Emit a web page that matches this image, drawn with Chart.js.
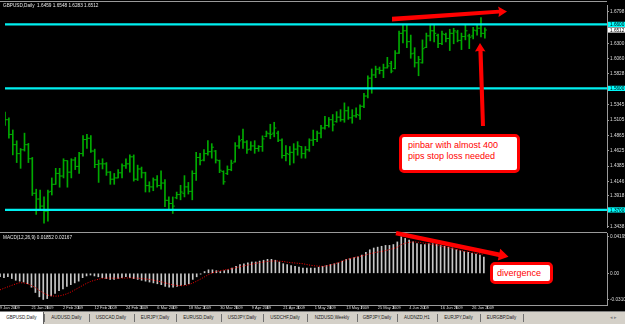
<!DOCTYPE html>
<html>
<head>
<meta charset="utf-8">
<script src="https://cdn.jsdelivr.net/npm/chart.js@4.4.1/dist/chart.umd.min.js"></script>
<style>
  html, body { margin: 0; padding: 0; background: #000; }
  body { width: 625px; height: 324px; position: relative; overflow: hidden; font-family: 'Liberation Sans', Arial, sans-serif; }
  canvas { position: absolute; left: 0; }
  #priceChart { top: 0; }
  #macdChart { top: 233px; }
  .rule { position: absolute; background: #9a9a9a; }
  .caption { position: absolute; left: 3px; color: #e8e8e8; font-size: 4.7px; line-height: 5px; white-space: pre; }
  .note { position: absolute; box-sizing: border-box; background: #fff; border: 3px solid #f00; border-radius: 5px;
          color: #f00; font: 9px/11px 'Liberation Sans', Arial, sans-serif; white-space: nowrap; }
  #tabs { position: absolute; left: 0; top: 311px; width: 625px; height: 13px; background: #d4d0c8; border-top: 1px solid #808080; box-sizing: border-box; }
  .tab { position: absolute; top: 0; height: 12px; font-size: 4.5px; line-height: 12px; color: #202020; white-space: nowrap; }
  .tab.active { background: #fff; border-right: 1px solid #606060; }
  .sep { position: absolute; top: 2px; width: 1px; height: 8px; background: #707070; }
  svg { position: absolute; left: 0; top: 0; }
</style>
</head>
<body>
<canvas id="priceChart" width="625" height="232"></canvas>
<canvas id="macdChart" width="625" height="78"></canvas>

<div class="rule" style="left:0;top:1px;width:607px;height:1px"></div>
<div class="rule" style="left:0;top:232px;width:607px;height:1px"></div>

<div class="caption" style="top:3px">GBPUSD,Daily  1.6459 1.6548 1.6283 1.6512</div>
<div class="caption" style="top:235px">MACD(12,26,9) 0.01852 0.02167</div>

<div class="note" style="left:399px;top:134px;width:121px;height:39px;padding:3px 0 0 6px">pinbar with almost 400<br>pips stop loss needed</div>
<div class="note" style="left:490px;top:262px;width:63px;height:22px;padding:3px 0 0 4px">divergence</div>

<svg width="625" height="324">
  <polygon fill="#f00" points="392,16.8 499,9.8 498,6.5 507,11.5 498.5,17 499,13.4 392,21.6"/>
  <polygon fill="#f00" points="480,43 485.5,51.5 482.6,51 485,126 481,126 478.4,51 475,51.5"/>
  <polygon fill="#f00" points="396.5,230.9 499.5,252.5 500.2,248.8 508.5,256.7 497.8,260.6 498.5,256.9 395.5,235.2"/>
</svg>

<div id="tabs"></div>

<script>
// ---- data (GBPUSD daily, 9 Jan 2009 .. 1 Jul 2009) ----
const dateTicks = ['9 Jan 2009', '21 Jan 2009', '2 Feb 2009', '12 Feb 2009', '24 Feb 2009', '6 Mar 2009',
    '18 Mar 2009', '30 Mar 2009', '9 Apr 2009', '21 Apr 2009', '1 May 2009', '13 May 2009',
    '25 May 2009', '4 Jun 2009', '16 Jun 2009', '26 Jun 2009'];
const dateTickBars = [0, 8, 16, 24, 32, 40, 48, 56, 64, 72, 80, 88, 96, 104, 112, 120];

const openP = [
    1.5175, 1.5110, 1.4880, 1.4720, 1.4580, 1.4640, 1.4720, 1.4500, 1.3960, 1.3870,
    1.3760, 1.3680, 1.3990, 1.4100, 1.4270, 1.4230, 1.4470, 1.4290, 1.4480, 1.4380,
    1.4580, 1.4800, 1.4820, 1.4620, 1.4410, 1.4420, 1.4420, 1.4290, 1.4180, 1.4200,
    1.4280, 1.4390, 1.4420, 1.4530, 1.4180, 1.4340, 1.4280, 1.4080, 1.4060, 1.4170,
    1.4080, 1.4120, 1.3850, 1.3800, 1.3890, 1.3940, 1.3960, 1.4060, 1.3990, 1.4270,
    1.4520, 1.4480, 1.4580, 1.4610, 1.4620, 1.4470, 1.4300, 1.4270, 1.4330, 1.4450,
    1.4700, 1.4800, 1.4760, 1.4650, 1.4700, 1.4660, 1.4690, 1.4850, 1.4890, 1.4900,
    1.4900, 1.4790, 1.4550, 1.4570, 1.4600, 1.4650, 1.4690, 1.4580, 1.4640, 1.4790,
    1.4800, 1.4900, 1.4980, 1.5020, 1.5110, 1.5080, 1.5150, 1.5110, 1.5250, 1.5140,
    1.5170, 1.5180, 1.5320, 1.5480, 1.5760, 1.5810, 1.5900, 1.5880, 1.5920, 1.5990,
    1.5910, 1.6150, 1.6460, 1.6500, 1.6330, 1.6150, 1.6000, 1.6000, 1.6240, 1.6420,
    1.6500, 1.6430, 1.6300, 1.6440, 1.6380, 1.6460, 1.6480, 1.6350, 1.6410, 1.6420,
    1.6420, 1.6500, 1.6540, 1.6459];
const highP = [
    1.5230, 1.5140, 1.4950, 1.4780, 1.4660, 1.4900, 1.4740, 1.4520, 1.4024, 1.4009,
    1.3903, 1.4009, 1.4200, 1.4350, 1.4350, 1.4500, 1.4470, 1.4500, 1.4520, 1.4600,
    1.4860, 1.4880, 1.4860, 1.4650, 1.4480, 1.4500, 1.4440, 1.4300, 1.4270, 1.4330,
    1.4420, 1.4500, 1.4560, 1.4560, 1.4400, 1.4370, 1.4290, 1.4140, 1.4200, 1.4236,
    1.4312, 1.4176, 1.3903, 1.3903, 1.3979, 1.4085, 1.4236, 1.4130, 1.4312, 1.4600,
    1.4585, 1.4645, 1.4782, 1.4736, 1.4630, 1.4479, 1.4312, 1.4388, 1.4479, 1.4752,
    1.4858, 1.4964, 1.4782, 1.4767, 1.4782, 1.4706, 1.4858, 1.4933, 1.5039, 1.5070,
    1.4933, 1.4812, 1.4706, 1.4691, 1.4736, 1.4767, 1.4691, 1.4691, 1.4812, 1.4948,
    1.4933, 1.5024, 1.5161, 1.5145, 1.5191, 1.5236, 1.5267, 1.5373, 1.5312, 1.5267,
    1.5297, 1.5342, 1.5524, 1.5797, 1.5903, 1.5948, 1.5933, 1.5979, 1.6085, 1.6024,
    1.6191, 1.6494, 1.6585, 1.6585, 1.6433, 1.6236, 1.6100, 1.6358, 1.6464, 1.6600,
    1.6585, 1.6448, 1.6494, 1.6464, 1.6524, 1.6539, 1.6509, 1.6464, 1.6585, 1.6448,
    1.6554, 1.6585, 1.6706, 1.6548];
const lowP = [
    1.5020, 1.4820, 1.4560, 1.4440, 1.4350, 1.4620, 1.4440, 1.3925, 1.3630, 1.3706,
    1.3494, 1.3524, 1.3933, 1.4100, 1.4055, 1.4200, 1.4055, 1.4200, 1.4330, 1.4270,
    1.4540, 1.4660, 1.4600, 1.4360, 1.4130, 1.4340, 1.4240, 1.4100, 1.4100, 1.4200,
    1.4200, 1.4350, 1.4290, 1.4150, 1.4160, 1.4200, 1.3980, 1.3980, 1.4000, 1.4055,
    1.4024, 1.3752, 1.3721, 1.3645, 1.3873, 1.3858, 1.3903, 1.3948, 1.3858, 1.4161,
    1.4403, 1.4464, 1.4555, 1.4509, 1.4433, 1.4282, 1.4100, 1.4252, 1.4312, 1.4448,
    1.4661, 1.4661, 1.4585, 1.4630, 1.4585, 1.4615, 1.4615, 1.4842, 1.4812, 1.4842,
    1.4767, 1.4509, 1.4464, 1.4403, 1.4433, 1.4555, 1.4509, 1.4509, 1.4615, 1.4706,
    1.4767, 1.4827, 1.4964, 1.4994, 1.4933, 1.5070, 1.5085, 1.5070, 1.5115, 1.5055,
    1.5145, 1.5115, 1.5297, 1.5449, 1.5524, 1.5767, 1.5827, 1.5767, 1.5918, 1.5842,
    1.5903, 1.6145, 1.6312, 1.6236, 1.6070, 1.5933, 1.5797, 1.5994, 1.6236, 1.6342,
    1.6327, 1.6236, 1.6282, 1.6327, 1.6191, 1.6297, 1.6327, 1.6206, 1.6358, 1.6221,
    1.6373, 1.6433, 1.6403, 1.6383];
const closeP = [
    1.5110, 1.4880, 1.4720, 1.4580, 1.4640, 1.4720, 1.4500, 1.3960, 1.3870, 1.3760,
    1.3680, 1.3980, 1.4100, 1.4270, 1.4230, 1.4470, 1.4290, 1.4480, 1.4380, 1.4580,
    1.4800, 1.4820, 1.4620, 1.4410, 1.4420, 1.4420, 1.4290, 1.4180, 1.4200, 1.4280,
    1.4390, 1.4420, 1.4530, 1.4180, 1.4340, 1.4280, 1.4080, 1.4060, 1.4170, 1.4080,
    1.4120, 1.3850, 1.3800, 1.3760, 1.3940, 1.3980, 1.4060, 1.3990, 1.4270, 1.4520,
    1.4470, 1.4580, 1.4610, 1.4680, 1.4480, 1.4320, 1.4140, 1.4330, 1.4430, 1.4700,
    1.4780, 1.4760, 1.4640, 1.4700, 1.4660, 1.4690, 1.4810, 1.4900, 1.4880, 1.4980,
    1.4790, 1.4550, 1.4580, 1.4600, 1.4650, 1.4700, 1.4580, 1.4640, 1.4790, 1.4800,
    1.4900, 1.4980, 1.5020, 1.5110, 1.5030, 1.5150, 1.5110, 1.5250, 1.5140, 1.5170,
    1.5190, 1.5320, 1.5480, 1.5760, 1.5810, 1.5900, 1.5880, 1.5920, 1.5950, 1.5870,
    1.6150, 1.6460, 1.6500, 1.6330, 1.6140, 1.6000, 1.6050, 1.6220, 1.6420, 1.6500,
    1.6460, 1.6300, 1.6450, 1.6380, 1.6460, 1.6500, 1.6350, 1.6410, 1.6500, 1.6400,
    1.6510, 1.6540, 1.6460, 1.6512];

const macdMain = [
    -0.004, -0.005, -0.004, -0.006, -0.008, -0.009, -0.010, -0.012, -0.016, -0.022,
    -0.027, -0.030, -0.029, -0.026, -0.023, -0.020, -0.018, -0.015, -0.013, -0.011,
    -0.009, -0.005, -0.003, -0.002, -0.003, -0.004, -0.005, -0.006, -0.007, -0.007,
    -0.006, -0.005, -0.004, -0.005, -0.006, -0.007, -0.008, -0.009, -0.010, -0.011,
    -0.012, -0.013, -0.015, -0.016, -0.016, -0.015, -0.014, -0.013, -0.012, -0.007,
    -0.004, -0.001, 0.002, 0.004, 0.004, 0.003, 0.002, 0.003, 0.004, 0.006,
    0.008, 0.010, 0.011, 0.012, 0.013, 0.013, 0.014, 0.015, 0.016, 0.016,
    0.015, 0.013, 0.011, 0.010, 0.009, 0.008, 0.007, 0.006, 0.006, 0.006,
    0.006, 0.007, 0.008, 0.009, 0.010, 0.011, 0.012, 0.014, 0.016, 0.017,
    0.018, 0.019, 0.021, 0.024, 0.027, 0.029, 0.030, 0.031, 0.032, 0.032,
    0.033, 0.036, 0.0419, 0.040, 0.038, 0.036, 0.034, 0.033, 0.033, 0.034,
    0.034, 0.033, 0.032, 0.031, 0.030, 0.029, 0.027, 0.026, 0.025, 0.024,
    0.023, 0.022, 0.021, 0.01852];
const macdSignal = [
    -0.0190, -0.0172, -0.0155, -0.0138, -0.0122, -0.0108, -0.0110, -0.0120, -0.0140, -0.0165,
    -0.0195, -0.0225, -0.0248, -0.0258, -0.0262, -0.0260, -0.0250, -0.0235, -0.0215, -0.0190,
    -0.0165, -0.0140, -0.0115, -0.0095, -0.0080, -0.0068, -0.0058, -0.0055, -0.0055, -0.0056,
    -0.0056, -0.0055, -0.0054, -0.0053, -0.0054, -0.0056, -0.0060, -0.0065, -0.0070, -0.0078,
    -0.0088, -0.0098, -0.0110, -0.0122, -0.0132, -0.0140, -0.0143, -0.0140, -0.0130, -0.0112,
    -0.0090, -0.0066, -0.0040, -0.0015, 0.0005, 0.0020, 0.0030, 0.0038, 0.0045, 0.0055,
    0.0065, 0.0075, 0.0085, 0.0095, 0.0105, 0.0115, 0.0122, 0.0130, 0.0136, 0.0140,
    0.0142, 0.0140, 0.0135, 0.0128, 0.0122, 0.0118, 0.0114, 0.0110, 0.0100, 0.0092,
    0.0086, 0.0082, 0.0080, 0.0085, 0.0095, 0.0108, 0.0122, 0.0138, 0.0155, 0.0170,
    0.0180, 0.0190, 0.0200, 0.0212, 0.0225, 0.0235, 0.0243, 0.0250, 0.0260, 0.0272,
    0.0285, 0.0300, 0.0330, 0.0345, 0.0355, 0.0360, 0.0358, 0.0352, 0.0345, 0.0338,
    0.0330, 0.0322, 0.0313, 0.0303, 0.0293, 0.0283, 0.0273, 0.0263, 0.0253, 0.0244,
    0.0236, 0.0228, 0.0222, 0.02167];

const levels = [1.6600, 1.5600, 1.3700];
const lastPrice = 1.6512;
const priceTicks = [1.6798, 1.6300, 1.6060, 1.5828, 1.5345, 1.5105, 1.4865, 1.4625, 1.4385, 1.4146, 1.3918, 1.3438];
const macdTicks = [0.04195, 0, -0.0306];
const macdTickLabels = ['0.04195', '0.00', '-0.03100'];
const tabs = ['GBPUSD,Daily', 'AUDUSD,Daily', 'USDCAD,Daily', 'EURJPY,Daily', 'EURUSD,Daily', 'USDJPY,Daily',
    'USDCHF,Daily', 'NZDUSD,Weekly', 'GBPJPY,Daily', 'AUDNZD,H1', 'EURJPY,Daily', 'EURGBP,Daily'];

// ---- layout ----
const X_MIN = 0, X_MAX = 154.3;
const BAR_GREEN = '#00aa00';
const AXIS_GREY = '#9a9a9a';
const TXT = '#dcdcdc';
const SMALL = { family: "'Liberation Sans', Arial, sans-serif", size: 4.7 };

Chart.defaults.animation = false;
Chart.defaults.events = [];

const idx = closeP.map((c, i) => i);

function rightAxis(min, max, ticks, label) {
    return {
        position: 'right', min: min, max: max,
        afterBuildTicks: s => { s.ticks = ticks.map(v => ({ value: v })); },
        afterFit: s => { s.width = 18; s.paddingTop = 0; s.paddingBottom = 0; },
        ticks: { font: SMALL, color: TXT, padding: 1, callback: label },
        grid: { drawOnChartArea: false, tickLength: 2, color: AXIS_GREY },
        border: { color: AXIS_GREY }
    };
}

// price labels sitting on the axis (horizontal lines + last price)
const axisBoxes = {
    id: 'axisBoxes',
    afterDraw(chart) {
        const c = chart.ctx, ys = chart.scales.y, left = chart.chartArea.right + 1;
        c.save();
        c.font = "4.7px 'Liberation Sans', Arial, sans-serif";
        c.textBaseline = 'middle';
        const box = (v, bg) => {
            const py = ys.getPixelForValue(v);
            c.fillStyle = bg;
            c.fillRect(left, py - 2.6, 18, 5.2);
            c.fillStyle = '#000';
            c.fillText(v.toFixed(4), left + 2, py + 0.3);
        };
        levels.forEach(v => box(v, '#00ffff'));
        box(lastPrice, '#ffffff');
        c.restore();
    }
};

const priceChart = new Chart(document.getElementById('priceChart'), {
    type: 'bar',
    data: {
        datasets: [
            ...levels.map(v => ({
                type: 'line', data: [{ x: X_MIN, y: v }, { x: X_MAX, y: v }],
                borderColor: '#00f0f0', borderWidth: 2.4, pointRadius: 0, order: 0
            })),
            {
                type: 'line', data: idx.map(i => ({ x: i - 0.26, y: openP[i] })),
                showLine: false, pointStyle: 'line', pointRadius: 1.1, pointBorderWidth: 1,
                pointBorderColor: BAR_GREEN, order: 1
            },
            {
                type: 'line', data: idx.map(i => ({ x: i + 0.26, y: closeP[i] })),
                showLine: false, pointStyle: 'line', pointRadius: 1.1, pointBorderWidth: 1,
                pointBorderColor: BAR_GREEN, order: 1
            },
            {
                data: idx.map(i => ({ x: i, y: [lowP[i], highP[i]] })),
                backgroundColor: BAR_GREEN, barThickness: 1, grouped: false, order: 2
            }
        ]
    },
    options: {
        responsive: false,
        layout: { padding: { top: 2, bottom: 1, left: 0, right: 0 } },
        plugins: { legend: { display: false }, tooltip: { enabled: false } },
        scales: {
            x: { type: 'linear', min: X_MIN, max: X_MAX, offset: false, display: false },
            y: rightAxis(1.3433, 1.6903, priceTicks, v => v.toFixed(4))
        }
    },
    plugins: [axisBoxes]
});

const macdChart = new Chart(document.getElementById('macdChart'), {
    type: 'bar',
    data: {
        datasets: [
            {
                type: 'line', data: idx.map(i => ({ x: i, y: macdSignal[i] })),
                borderColor: '#ff0000', borderWidth: 1, borderDash: [1, 1.5], pointRadius: 0, order: 0
            },
            {
                data: idx.map(i => ({ x: i, y: macdMain[i] })),
                backgroundColor: '#c8c8c8', barThickness: 1, grouped: false, order: 1
            }
        ]
    },
    options: {
        responsive: false,
        layout: { padding: 0 },
        plugins: { legend: { display: false }, tooltip: { enabled: false } },
        scales: {
            x: {
                type: 'linear', min: X_MIN, max: X_MAX, offset: false,
                afterBuildTicks: s => { s.ticks = dateTickBars.map(v => ({ value: v })); },
                afterFit: s => { s.height = 6; s.paddingLeft = 0; s.paddingRight = 0; },
                ticks: {
                    font: { family: SMALL.family, size: 4 }, color: TXT, padding: -4, align: 'start',
                    maxRotation: 0, autoSkip: false,
                    callback: v => dateTicks[dateTickBars.indexOf(v)]
                },
                grid: { drawOnChartArea: false, tickLength: 4, color: AXIS_GREY },
                border: { color: AXIS_GREY }
            },
            y: rightAxis(-0.03635, 0.04622, macdTicks, v => macdTickLabels[macdTicks.indexOf(v)])
        }
    }
});

// symbol tabs along the bottom
const tabLeft = [0, 44, 89, 134, 176, 221, 263, 307, 357, 397, 437, 480];
const tabWidth = [43, 45, 44, 42, 45, 42, 44, 50, 40, 40, 43, 43];
const tabBar = document.getElementById('tabs');
tabs.forEach((name, i) => {
    const t = document.createElement('div');
    t.className = 'tab' + (i === 0 ? ' active' : '');
    t.style.left = tabLeft[i] + 'px';
    t.style.width = tabWidth[i] + 'px';
    t.style.textAlign = 'center';
    t.textContent = name;
    tabBar.appendChild(t);
    if (i > 0) {
        const s = document.createElement('div');
        s.className = 'sep';
        s.style.left = tabLeft[i] + 'px';
        tabBar.appendChild(s);
    }
});
const endSep = document.createElement('div');
endSep.className = 'sep';
endSep.style.left = '523px';
tabBar.appendChild(endSep);
const arrows = document.createElement('div');
arrows.className = 'tab';
arrows.style.left = '610px';
arrows.style.color = '#808080';
arrows.textContent = '\u25C2  \u25B8';
tabBar.appendChild(arrows);
</script>
</body>
</html>
